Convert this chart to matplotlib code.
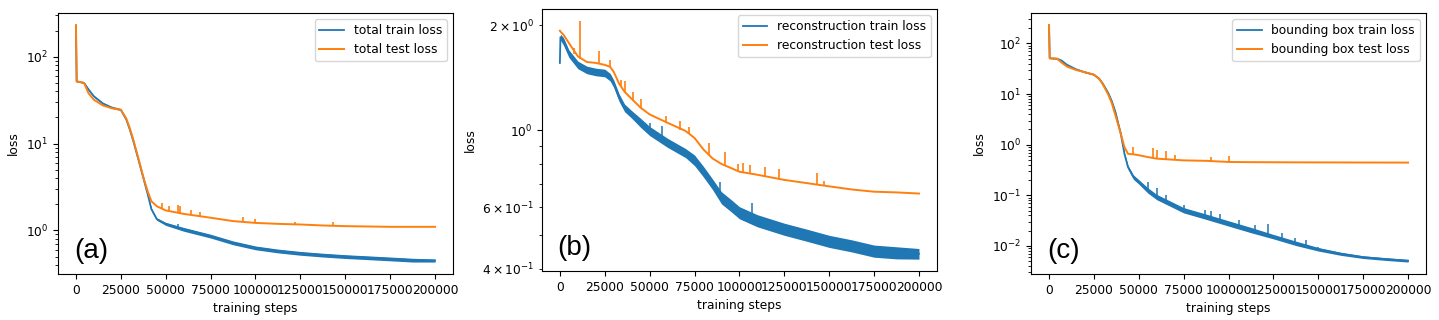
import matplotlib
matplotlib.use("Agg")
import matplotlib.pyplot as plt
import numpy as np

plt.rcParams["font.size"] = 8.8

# ---- panel (a): total loss ----
steps_a = [0, 400, 4500, 7000, 10000, 15000, 20000, 25000, 28000, 30000, 32000, 35000, 38000, 40000,
           42000, 45000, 50000, 60000, 75000, 87500, 100000, 112500, 125000, 137500, 150000, 162500,
           175000, 187500, 200000]
train_a = [230, 52, 50, 42, 35, 29, 26, 24.5, 19, 14.5, 10.6, 6.3, 3.7, 2.6,
           1.76, 1.35, 1.19, 1.03, 0.86, 0.72, 0.63, 0.58, 0.545, 0.52, 0.50, 0.485,
           0.47, 0.455, 0.45]
test_a = [230, 52, 50, 38, 32, 27.5, 25.5, 24.5, 19.5, 15, 11, 6.5, 3.8, 2.8,
          2.17, 1.9, 1.70, 1.55, 1.40, 1.28, 1.22, 1.19, 1.17, 1.14, 1.12, 1.11,
          1.10, 1.10, 1.10]
spread_a = [0.01, 0.01, 0.01, 0.02, 0.02, 0.02, 0.02, 0.02, 0.02, 0.02, 0.02, 0.02, 0.03, 0.03,
            0.03, 0.03, 0.04, 0.05, 0.05, 0.05, 0.05, 0.05, 0.05, 0.05, 0.05, 0.05,
            0.05, 0.05, 0.04]
test_spikes_a = [(48000, 1.80, 2.07), (52000, 1.68, 1.92), (57000, 1.60, 1.95), (58000, 1.60, 1.90),
                 (64000, 1.52, 1.74), (69000, 1.47, 1.62), (93000, 1.25, 1.42), (100000, 1.22, 1.36),
                 (122000, 1.17, 1.24), (143000, 1.13, 1.26)]
train_spikes_a = [(57000, 1.06, 1.19)]

# ---- panel (b): reconstruction loss ----
steps_b = [0, 300, 2000, 5000, 10000, 15000, 20000, 25000, 28000, 30000, 33000, 36000, 40000, 45000,
           50000, 60000, 70000, 75000, 80000, 85000, 90000, 95000, 100000, 110000, 125000, 137500,
           150000, 162500, 175000, 187500, 200000]
train_b = [1.56, 1.85, 1.80, 1.66, 1.54, 1.49, 1.47, 1.46, 1.42, 1.36, 1.24, 1.16, 1.11, 1.05,
           0.995, 0.92, 0.86, 0.82, 0.76, 0.70, 0.64, 0.61, 0.58, 0.55, 0.52, 0.50,
           0.48, 0.466, 0.45, 0.445, 0.442]
test_b = [1.93, 1.92, 1.88, 1.78, 1.63, 1.57, 1.56, 1.54, 1.52, 1.47, 1.36, 1.29, 1.23, 1.16,
          1.11, 1.05, 0.995, 0.95, 0.88, 0.83, 0.80, 0.78, 0.76, 0.745, 0.72, 0.705,
          0.69, 0.676, 0.666, 0.663, 0.658]
spread_b = [0.01, 0.02, 0.025, 0.025, 0.025, 0.025, 0.025, 0.025, 0.025, 0.025, 0.025, 0.025, 0.025, 0.03,
            0.03, 0.03, 0.03, 0.035, 0.035, 0.035, 0.04, 0.04, 0.04, 0.04, 0.04, 0.04,
            0.04, 0.04, 0.04, 0.04, 0.035]
test_spikes_b = [(8000, 1.66, 1.72), (11100, 1.60, 2.06), (22000, 1.55, 1.69), (28000, 1.52, 1.59),
                 (34000, 1.34, 1.39), (36000, 1.29, 1.38), (41000, 1.21, 1.29), (45000, 1.16, 1.23),
                 (59000, 1.05, 1.10), (67000, 1.00, 1.065), (72000, 0.98, 1.02), (83000, 0.85, 0.92),
                 (92000, 0.79, 0.865), (99000, 0.765, 0.80), (102000, 0.76, 0.805), (106000, 0.75, 0.797),
                 (114000, 0.74, 0.784), (122000, 0.725, 0.773), (143000, 0.70, 0.756), (147000, 0.695, 0.715)]
train_spikes_b = [(50000, 0.99, 1.05), (57000, 0.93, 1.03), (89000, 0.65, 0.71), (107000, 0.56, 0.62)]

# ---- panel (c): bounding box loss ----
steps_c = [0, 400, 4500, 7000, 10000, 15000, 20000, 25000, 28000, 30000, 33000, 35000, 37000, 40000,
           42000, 44000, 47000, 50000, 55000, 60000, 75000, 87500, 100000, 112500, 125000, 137500,
           150000, 162500, 175000, 187500, 200000]
train_c = [230, 51, 50, 46, 38, 31, 27, 24.2, 20, 16, 10.5, 7.2, 4.4, 1.64,
           0.665, 0.36, 0.23, 0.185, 0.126, 0.093, 0.051, 0.038, 0.028, 0.0207, 0.0153, 0.0113,
           0.0086, 0.0070, 0.0060, 0.0055, 0.0051]
test_c = [230, 51, 50, 42, 35, 30, 27, 24.2, 20, 15.5, 9.8, 6.6, 3.8, 1.64,
          0.9, 0.66, 0.645, 0.62, 0.57, 0.53, 0.49, 0.48, 0.456, 0.452, 0.45, 0.448,
          0.447, 0.446, 0.445, 0.444, 0.443]
spread_c = [0.01, 0.01, 0.01, 0.02, 0.02, 0.02, 0.02, 0.02, 0.02, 0.03, 0.03, 0.03, 0.04, 0.05,
            0.06, 0.08, 0.1, 0.1, 0.12, 0.12, 0.12, 0.12, 0.12, 0.12, 0.1, 0.1,
            0.08, 0.07, 0.06, 0.06, 0.06]
test_spikes_c = [(47000, 0.64, 0.90), (58000, 0.54, 0.87), (60000, 0.53, 0.80), (65000, 0.51, 0.75),
                 (70000, 0.50, 0.62), (90000, 0.475, 0.56), (100000, 0.456, 0.60)]
train_spikes_c = [(55000, 0.126, 0.184), (60000, 0.093, 0.14), (65000, 0.078, 0.10), (75000, 0.051, 0.064),
                  (87000, 0.039, 0.051), (90000, 0.037, 0.050), (95000, 0.032, 0.042), (106000, 0.025, 0.033),
                  (115000, 0.020, 0.026), (122000, 0.017, 0.0265), (130000, 0.0135, 0.018),
                  (137000, 0.0115, 0.0145), (143000, 0.010, 0.013), (150000, 0.0086, 0.0095)]


def loss_panel(fig, rect, steps, train, test, spread, train_spikes, test_spikes, name, tag):
    ax = fig.add_axes(rect)
    steps = np.array(steps)
    train = np.array(train)
    spread = np.array(spread)
    ax.fill_between(steps, train * (1 - spread), train * (1 + spread), color="C0", lw=0)
    ax.plot(steps, train, c="C0", linewidth=1.3, label=f"{name} train loss")
    s, lo, hi = zip(*train_spikes)
    ax.vlines(s, lo, hi, color="C0", linewidth=1.1)
    ax.plot(steps, test, c="C1", linewidth=1.4, label=f"{name} test loss")
    s, lo, hi = zip(*test_spikes)
    ax.vlines(s, lo, hi, color="C1", linewidth=1.2)
    ax.set_yscale("log")
    ax.set_xlabel("training steps")
    ax.set_ylabel("loss")
    ax.legend(loc="upper right")
    ax.text(0.04, 0.06, tag, transform=ax.transAxes, fontsize=20, family="Liberation Sans")
    return ax


fig = plt.figure(figsize=(14.39, 3.2), dpi=100)
loss_panel(fig, [0.0403, 0.144, 0.2745, 0.815], steps_a, train_a, test_a, spread_a,
           train_spikes_a, test_spikes_a, "total", "(a)")
loss_panel(fig, [0.3766, 0.153, 0.2745, 0.819], steps_b, train_b, test_b, spread_b,
           train_spikes_b, test_spikes_b, "reconstruction", "(b)")
loss_panel(fig, [0.7165, 0.144, 0.2745, 0.815], steps_c, train_c, test_c, spread_c,
           train_spikes_c, test_spikes_c, "bounding box", "(c)")
fig.savefig("out.png", dpi=100)
